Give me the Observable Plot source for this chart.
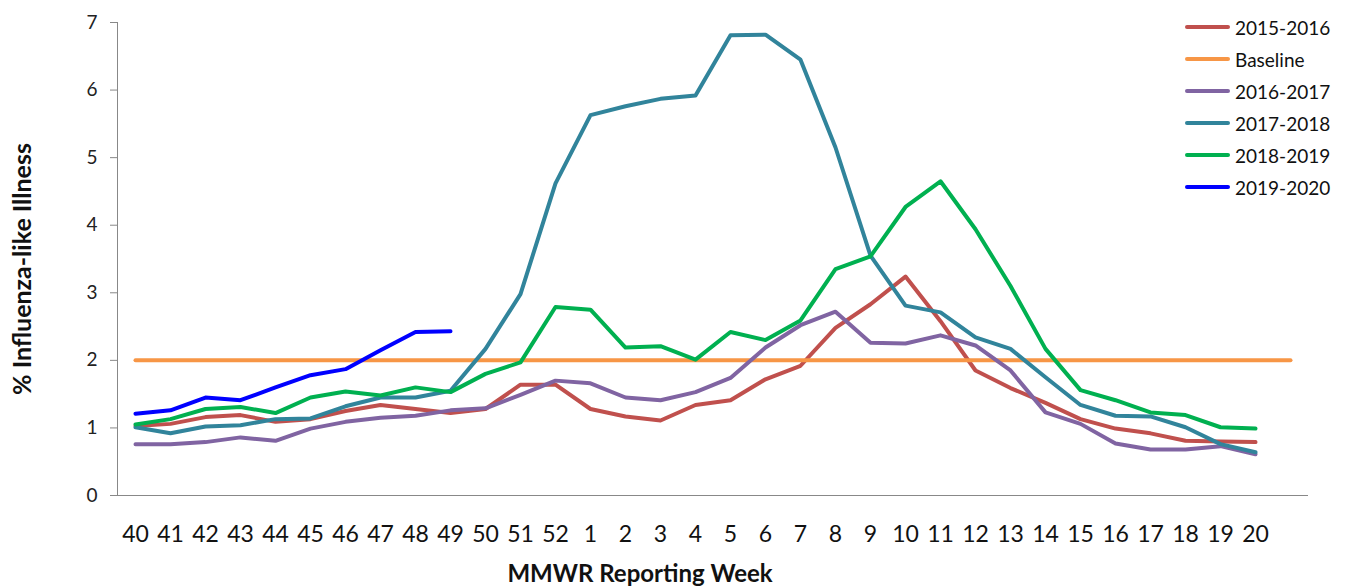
<!DOCTYPE html>
<html>
<head>
<meta charset="utf-8">
<script src="https://cdn.jsdelivr.net/npm/d3@7"></script>
<script src="https://cdn.jsdelivr.net/npm/@observablehq/plot@0.6"></script>
<style>
  html, body { margin: 0; padding: 0; background: #fff; }
  #wrap { position: relative; width: 1347px; height: 588px; overflow: hidden; font-family: Lato, "Open Sans", sans-serif; color: #111; }
  #wrap svg { position: absolute; left: 0; top: 0; }
  .ytitle { position: absolute; left: 21px; top: 269px; transform: translate(-50%, -50%) rotate(-90deg); font-weight: bold; font-size: 25px; white-space: nowrap; }
  .xtitle { position: absolute; left: 640px; top: 573px; transform: translate(-50%, -50%); font-weight: bold; font-size: 24px; line-height: 24px; white-space: nowrap; }
  .legend { position: absolute; left: 1185px; top: 11px; }
  .legend .item { display: flex; align-items: center; height: 32px; font-size: 19px; }
  .legend .sw { width: 45px; height: 4px; border-radius: 2px; margin-right: 5px; }
</style>
</head>
<body>
<div id="wrap">
  <div class="ytitle">% Influenza-like Illness</div>
  <div class="xtitle">MMWR Reporting Week</div>
  <div class="legend" id="legend"></div>
</div>
<script>
// Week labels (34th category is blank, as in the source chart)
const weeks = ["40","41","42","43","44","45","46","47","48","49","50","51","52",
  "1","2","3","4","5","6","7","8","9","10","11","12","13","14","15","16","17","18","19","20",""];

const seriesNames = ["2015-2016","Baseline","2016-2017","2017-2018","2018-2019","2019-2020"];
const seriesColors = ["#C0504D","#F79646","#8064A2","#31849B","#00B050","#0000FF"];

const s2015 = [1.03,1.06,1.16,1.19,1.09,1.13,1.25,1.34,1.28,1.22,1.28,1.64,1.64,1.28,1.17,1.11,1.34,1.41,1.72,1.92,2.48,2.83,3.24,2.58,1.85,1.59,1.37,1.13,0.99,0.92,0.81,0.80,0.79];
const baseline = [2,2,2,2,2,2,2,2,2,2,2,2,2,2,2,2,2,2,2,2,2,2,2,2,2,2,2,2,2,2,2,2,2,2];
const s2016 = [0.76,0.76,0.79,0.86,0.81,0.99,1.09,1.15,1.18,1.26,1.29,1.49,1.70,1.66,1.45,1.41,1.53,1.74,2.19,2.52,2.72,2.26,2.25,2.37,2.22,1.85,1.23,1.06,0.77,0.68,0.68,0.73,0.61];
const s2017 = [1.01,0.92,1.02,1.04,1.13,1.14,1.32,1.45,1.45,1.55,2.17,2.98,4.62,5.63,5.76,5.87,5.92,6.81,6.82,6.45,5.15,3.55,2.81,2.71,2.34,2.17,1.75,1.34,1.18,1.17,1.01,0.76,0.64];
const s2018 = [1.05,1.13,1.28,1.31,1.22,1.45,1.54,1.48,1.60,1.53,1.80,1.97,2.79,2.75,2.19,2.21,2.01,2.42,2.30,2.59,3.35,3.54,4.27,4.65,3.94,3.10,2.17,1.56,1.41,1.23,1.19,1.01,0.99];
const s2019 = [1.21,1.26,1.45,1.41,1.60,1.78,1.87,2.15,2.42,2.43];

const yTicks = [0,1,2,3,4,5,6,7];

const allValues = [s2015, baseline, s2016, s2017, s2018, s2019];
const rows = [];
allValues.forEach((vals, k) => {
  vals.forEach((v, i) => rows.push({series: seriesNames[k], i, value: v}));
});

const chart = Plot.plot({
  width: 1347,
  height: 588,
  marginLeft: 117,
  marginRight: 39,
  marginTop: 22,
  marginBottom: 93,
  style: {fontFamily: "Lato, 'Open Sans', sans-serif", background: "transparent"},
  x: {type: "point", domain: d3.range(weeks.length), padding: 0.5, label: null},
  y: {domain: [0, 7], label: null},
  color: {domain: seriesNames, range: seriesColors},
  marks: [
    Plot.frame({anchor: "left", stroke: "#888"}),
    Plot.ruleY([0], {stroke: "#888"}),
    Plot.axisY({ticks: yTicks, tickSize: 7, tickPadding: 13, stroke: "#888", fontSize: 19, fill: "#222", tickFormat: d => d, label: null}),
    Plot.axisX({tickSize: 0, tickPadding: 30, fontSize: 23, fill: "#111", tickFormat: i => weeks[i], label: null}),
    Plot.line(rows, {x: "i", y: "value", z: "series", stroke: "series", strokeWidth: 4, strokeLinejoin: "round", strokeLinecap: "round"})
  ]
});
document.getElementById("wrap").prepend(chart);

const legend = document.getElementById("legend");
seriesNames.forEach((name, k) => {
  const item = document.createElement("div");
  item.className = "item";
  const sw = document.createElement("div");
  sw.className = "sw";
  sw.style.background = seriesColors[k];
  const t = document.createElement("span");
  t.textContent = name;
  item.append(sw, t);
  legend.append(item);
});
</script>
</body>
</html>
